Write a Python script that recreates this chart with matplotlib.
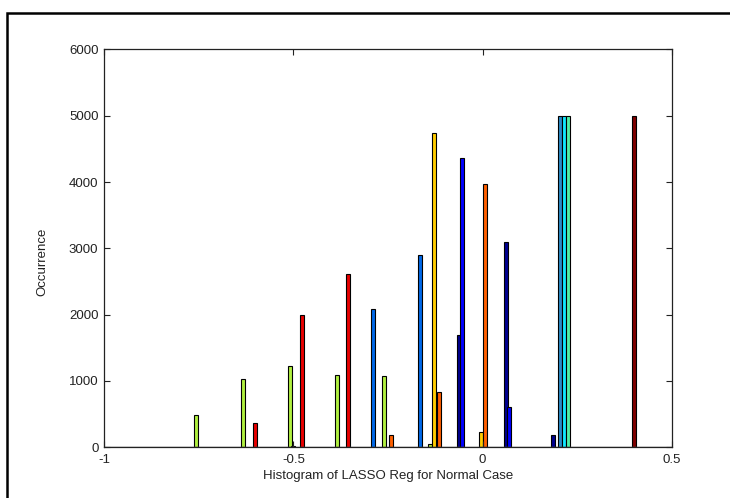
import matplotlib
matplotlib.use("Agg")
from matplotlib import pyplot as plt
from matplotlib.patches import Rectangle

plt.rcParams['font.family'] = ['Liberation Sans', 'DejaVu Sans']

# one histogram column per coefficient (jet colours), counts out of 5000 runs
navy_x = [-0.0634, 0.0623, 0.1864]
navy_n = [1700, 3090, 185]
blue_x = [-0.0539, 0.0702]
blue_n = [4360, 610]
azure_x = [-0.2889, -0.1664]
azure_n = [2080, 2900]
slate_x = [0.2055]
slate_n = [5000]
cyan_x = [0.2160]
cyan_n = [5000]
aqua_x = [0.2265]
aqua_n = [5000]
green_x = [-0.7579, -0.6337, -0.5096, -0.3855, -0.2606, -0.1392]
green_n = [490, 1030, 1230, 1090, 1070, 50]
misc_x = [-0.5000]
misc_n = [20]
yellow_x = [-0.1278, -0.0053]
yellow_n = [4740, 230]
orange_x = [-0.2414, -0.1162, 0.0069]
orange_n = [185, 830, 3970]
red_x = [-0.6021, -0.4772, -0.3549]
red_n = [370, 2000, 2610]
darkred_x = [0.3987]
darkred_n = [5000]

series = [
    (navy_x, navy_n, '#00008f'),
    (blue_x, blue_n, '#0000ff'),
    (azure_x, azure_n, '#0068e8'),
    (slate_x, slate_n, '#2a8cc8'),
    (cyan_x, cyan_n, '#10e8ff'),
    (aqua_x, aqua_n, '#50f0a8'),
    (green_x, green_n, '#b0f040'),
    (misc_x, misc_n, '#303030'),
    (yellow_x, yellow_n, '#ffcc00'),
    (orange_x, orange_n, '#ff6000'),
    (red_x, red_n, '#e80000'),
    (darkred_x, darkred_n, '#800000'),
]

fig = plt.figure(figsize=(7.3, 4.98), dpi=100)
ax = fig.add_axes([104 / 730, 50.7 / 498, 568 / 730, 397.9 / 498])

for xs, ns, col in series:
    ax.bar(xs, ns, width=0.0105, color=col, edgecolor='black', linewidth=0.8)

ax.axhline(0, color='#555555', linewidth=1)
ax.set_xlim(-1, 0.5)
ax.set_ylim(0, 6000)
ax.set_xticks([-1, -0.5, 0, 0.5])
ax.set_xticklabels(['-1', '-0.5', '0', '0.5'])
ax.set_yticks(range(0, 6001, 1000))
ax.tick_params(direction='in', top=True, right=True, length=4, width=0.8,
               labelsize=9.5, colors='#222222')
ax.tick_params(axis='x', pad=5)
ax.tick_params(axis='y', pad=4)
for sp in ax.spines.values():
    sp.set_linewidth(0.9)
    sp.set_color('#222222')
ax.set_xlabel('Histogram of LASSO Reg for Normal Case', fontsize=9.5,
              color='#222222', va='center')
ax.xaxis.set_label_coords(0.5, -0.072)
ax.set_ylabel('Occurrence', fontsize=9.5, color='#222222')
ax.yaxis.set_label_coords(-0.098, 0.465)

# outer frame of the exported figure
fig.patches.append(Rectangle((7 / 730, -0.1), 1.2, 0.1 + 1 - 13 / 498,
                             transform=fig.transFigure, fill=False,
                             edgecolor='black', linewidth=1.8))

fig.savefig('out.png', dpi=100)
